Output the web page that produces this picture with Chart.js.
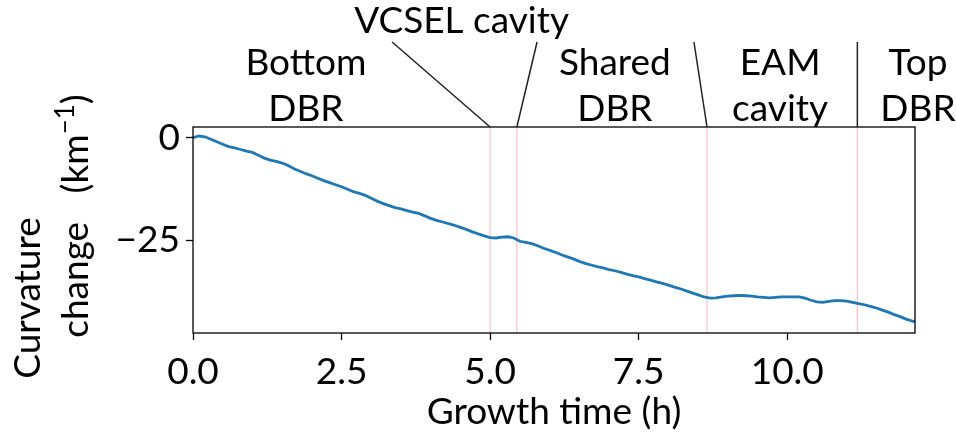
<!DOCTYPE html>
<html>
<head>
<meta charset="utf-8">
<script src="https://cdn.jsdelivr.net/npm/chart.js@4/dist/chart.umd.min.js"></script>
<style>
  html, body { margin: 0; padding: 0; background: #fff; }
  #wrap { width: 956px; height: 436px; }
</style>
</head>
<body>
<div id="wrap"><canvas id="chartvas" width="956" height="436"></canvas></div>
<script>
'use strict';

// growth time (h) and curvature change (km^-1)
const growthTime = [
  0.0, 0.1, 0.2, 0.3, 0.4, 0.5, 0.6, 0.7, 0.8, 0.9,
  1.0, 1.1, 1.2, 1.3, 1.4, 1.5, 1.6, 1.7, 1.8, 1.9,
  2.0, 2.1, 2.2, 2.3, 2.4, 2.5, 2.6, 2.7, 2.8, 2.9,
  3.0, 3.1, 3.2, 3.3, 3.4, 3.5, 3.6, 3.7, 3.8, 3.9,
  4.0, 4.1, 4.2, 4.3, 4.4, 4.5, 4.6, 4.7, 4.8, 4.9,
  5.0, 5.1, 5.2, 5.3, 5.4, 5.5, 5.6, 5.7, 5.8, 5.9,
  6.0, 6.1, 6.2, 6.3, 6.4, 6.5, 6.6, 6.7, 6.8, 6.9,
  7.0, 7.1, 7.2, 7.3, 7.4, 7.5, 7.6, 7.7, 7.8, 7.9,
  8.0, 8.1, 8.2, 8.3, 8.4, 8.5, 8.6, 8.7, 8.8, 8.9,
  9.0, 9.1, 9.2, 9.3, 9.4, 9.5, 9.6, 9.7, 9.8, 9.9,
  10.0, 10.1, 10.2, 10.3, 10.4, 10.5, 10.6, 10.7, 10.8, 10.9,
  11.0, 11.1, 11.2, 11.3, 11.4, 11.5, 11.6, 11.7, 11.8, 11.9,
  12.0, 12.15
];
const curvatureChange = [
  0.0, 0.4, 0.2, -0.4, -1.0, -1.6, -2.2, -2.5, -2.9, -3.3,
  -3.6, -4.3, -5.0, -5.5, -5.8, -6.2, -6.8, -7.6, -8.2, -8.8,
  -9.3, -9.9, -10.5, -11.0, -11.5, -12.0, -12.6, -13.2, -13.6, -14.1,
  -14.8, -15.5, -16.1, -16.6, -17.1, -17.4, -17.8, -18.2, -18.5, -19.1,
  -19.7, -20.2, -20.6, -21.0, -21.4, -21.9, -22.4, -23.0, -23.5, -24.0,
  -24.4, -24.5, -24.3, -24.2, -24.5, -25.3, -25.6, -25.9, -26.4, -27.0,
  -27.5, -28.0, -28.6, -29.1, -29.6, -30.2, -30.7, -31.1, -31.5, -31.8,
  -32.2, -32.5, -32.9, -33.3, -33.7, -34.0, -34.4, -34.8, -35.2, -35.6,
  -36.0, -36.5, -36.9, -37.4, -37.9, -38.4, -38.9, -39.2, -39.1, -38.9,
  -38.7, -38.6, -38.5, -38.6, -38.7, -38.9, -39.0, -39.1, -39.0, -38.9,
  -38.9, -38.9, -38.9, -39.2, -39.7, -40.1, -40.2, -40.0, -39.8, -39.8,
  -39.9, -40.2, -40.5, -40.8, -41.2, -41.6, -42.1, -42.6, -43.2, -43.7,
  -44.3, -45.0
];

// axis ticks
const xTicks = [0, 2.5, 5, 7.5, 10];
const yTicks = [0, -25];

// layer boundaries (h), drawn as pink lines
const boundaries = [5.0, 5.45, 8.65, 11.18];

// region labels above the plot: text lines and centre (h)
const regionNames = [['Bottom', 'DBR'], ['VCSEL cavity'], ['Shared', 'DBR'], ['EAM', 'cavity'], ['Top', 'DBR']];
const regionCentres = [1.9, 4.52, 7.1, 9.88, 12.2];
// leader lines: top end (h) -> boundary index
const leaderTops = [3.35, 5.79, 8.43, 11.18];

const FONT = 'Lato, "Open Sans", sans-serif';

const points = growthTime.map((t, i) => ({ x: t, y: curvatureChange[i] }));

// ----- annotations, frame and axis titles -----
const decorPlugin = {
  id: 'decor',
  beforeDatasetsDraw(chart) {
    const { ctx, chartArea: a, scales } = chart;
    ctx.save();
    ctx.strokeStyle = '#ffc0cb';
    ctx.lineWidth = 1.2;
    boundaries.forEach(b => {
      const px = scales.x.getPixelForValue(b);
      ctx.beginPath();
      ctx.moveTo(px, a.top);
      ctx.lineTo(px, a.bottom);
      ctx.stroke();
    });
    ctx.restore();
  },
  afterDraw(chart) {
    const { ctx, chartArea: a, scales } = chart;
    ctx.save();

    // frame
    ctx.strokeStyle = '#000';
    ctx.lineWidth = 1.3;
    ctx.strokeRect(a.left, a.top, a.right - a.left, a.bottom - a.top);

    // leader lines
    ctx.strokeStyle = '#222';
    ctx.lineWidth = 1.5;
    leaderTops.forEach((t, i) => {
      ctx.beginPath();
      ctx.moveTo(scales.x.getPixelForValue(t), 42);
      ctx.lineTo(scales.x.getPixelForValue(boundaries[i]), a.top);
      ctx.stroke();
    });

    // region labels
    ctx.fillStyle = '#000';
    ctx.font = '37px ' + FONT;
    ctx.textAlign = 'center';
    ctx.textBaseline = 'alphabetic';
    regionNames.forEach((lines, i) => {
      const px = scales.x.getPixelForValue(regionCentres[i]);
      if (lines.length === 1) {
        ctx.fillText(lines[0], px, 33);
      } else {
        ctx.fillText(lines[0], px, 75);
        ctx.fillText(lines[1], px, 121);
      }
    });

    // x title
    ctx.fillText('Growth time (h)', (a.left + a.right) / 2, 424);

    // y title, two rotated lines
    ctx.save();
    ctx.translate(40, 298);
    ctx.rotate(-Math.PI / 2);
    ctx.textAlign = 'center';
    ctx.fillText('Curvature', 0, 0);
    ctx.restore();

    ctx.save();
    ctx.translate(88, 216);
    ctx.rotate(-Math.PI / 2);
    ctx.textAlign = 'left';
    const main = 'change   (km';
    const sup = '\u22121';
    ctx.font = '37px ' + FONT;
    const wMain = ctx.measureText(main).width;
    const wClose = ctx.measureText(')').width;
    ctx.font = '26px ' + FONT;
    const wSup = ctx.measureText(sup).width;
    let x = -(wMain + wSup + wClose) / 2;
    ctx.font = '37px ' + FONT;
    ctx.fillText(main, x, 0);
    x += wMain;
    ctx.font = '26px ' + FONT;
    ctx.fillText(sup, x, -14);
    x += wSup;
    ctx.font = '37px ' + FONT;
    ctx.fillText(')', x, 0);
    ctx.restore();

    ctx.restore();
  }
};

const chartvas = document.querySelector('#chartvas');

new Chart(chartvas, {
  type: 'line',
  data: {
    datasets: [{
      data: points,
      borderColor: '#1f77b4',
      borderWidth: 2.8,
      pointRadius: 0,
      tension: 0,
      fill: false
    }]
  },
  options: {
    responsive: false,
    animation: false,
    events: [],
    layout: { padding: { left: 113, top: 127, right: 41, bottom: 43 } },
    plugins: { legend: { display: false }, tooltip: { enabled: false } },
    scales: {
      x: {
        type: 'linear',
        min: 0,
        max: 12.15,
        afterFit: scale => { scale.height = 60; },
        afterBuildTicks: scale => { scale.ticks = xTicks.map(v => ({ value: v })); },
        border: { display: false },
        grid: { drawOnChartArea: false, tickLength: 7, tickColor: '#000', tickWidth: 1.3 },
        ticks: {
          color: '#000',
          font: { family: FONT, size: 37 },
          padding: 10,
          maxRotation: 0,
          callback: v => v.toFixed(1)
        }
      },
      y: {
        min: -47.7,
        max: 2.6,
        afterFit: scale => { scale.width = 80; },
        afterBuildTicks: scale => { scale.ticks = yTicks.map(v => ({ value: v })); },
        border: { display: false },
        grid: { drawOnChartArea: false, tickLength: 7, tickColor: '#000', tickWidth: 1.3 },
        ticks: {
          color: '#000',
          font: { family: FONT, size: 37 },
          padding: 6,
          callback: v => (v < 0 ? '\u2212' + Math.abs(v) : String(v))
        }
      }
    }
  },
  plugins: [decorPlugin]
});
</script>
</body>
</html>
